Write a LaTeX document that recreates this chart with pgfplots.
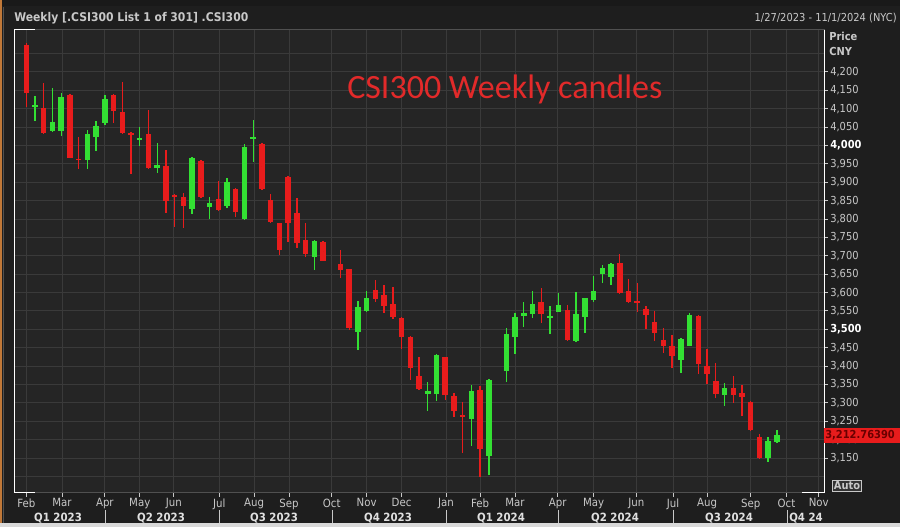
\documentclass[border=0pt]{standalone}
\usepackage{fontspec}
\setmainfont{DejaVu Sans}
\newfontfamily\tah{DejaVu Sans}[FakeStretch=0.9]
\newfontfamily\calfont{Carlito}
\usepackage{pgfplots}
\usepackage{pgfplotstable}
\pgfplotsset{compat=1.18}

\definecolor{outerbg}{HTML}{1E1E1E}
\definecolor{plotbg}{HTML}{252525}
\definecolor{gridc}{HTML}{3A3A3A}
\definecolor{framec}{HTML}{505050}
\definecolor{lbl}{HTML}{C8C8C8}
\definecolor{qlbl}{HTML}{E0E0E0}
\definecolor{cred}{HTML}{E81C1C}
\definecolor{cgreen}{HTML}{33E033}
\definecolor{ttl}{HTML}{E22A2A}
\definecolor{boxtxt}{HTML}{6A0000}
\definecolor{edge}{HTML}{C07838}

% weekly candles, x = week slot (holiday weeks left empty)
\pgfplotstableread{
x o h l c
0 4273 4278 4106 4144
2 4101 4171 4032 4035
5 4137 4139 3965 3967
6 3964 4022 3935 3960
10 4137 4139 4062 4094
11 4092 4174 4031 4033
12 4034 4036 3922 4029
14 4030 4097 3935 3938
16 3944 3988 3816 3850
17 3865 3867 3779 3861
18 3861 3870 3775 3836
20 3958 3960 3858 3861
22 3855 3904 3823 3825
24 3882 3884 3806 3820
27 4004 4006 3880 3882
28 3851 3868 3790 3792
29 3788 3790 3701 3717
30 3915 3918 3738 3788
31 3816 3856 3721 3736
32 3743 3788 3698 3705
34 3738 3740 3685 3687
36 3677 3715 3640 3661
37 3663 3665 3498 3504
40 3607 3634 3575 3582
41 3593 3621 3544 3564
42 3570 3614 3528 3534
43 3532 3534 3447 3480
44 3480 3482 3363 3395
45 3374 3424 3335 3337
48 3424 3426 3308 3321
49 3319 3328 3262 3279
50 3268 3303 3165 3262
52 3334 3345 3098 3174
59 3575 3612 3518 3542
62 3553 3565 3468 3470
68 3681 3705 3597 3599
69 3605 3636 3573 3575
70 3576 3626 3548 3571
71 3555 3564 3500 3538
72 3521 3550 3467 3491
73 3471 3503 3436 3455
74 3455 3485 3396 3427
77 3536 3538 3379 3405
78 3400 3447 3351 3378
79 3360 3408 3313 3324
81 3341 3374 3299 3321
82 3328 3349 3265 3316
83 3303 3305 3224 3226
84 3206 3216 3148 3150
}\downweeks

\pgfplotstableread{
x o h l c
1 4105 4136 4067 4109
3 4040 4156 4037 4064
4 4040 4142 4026 4133
7 3961 4042 3935 4030
8 4022 4067 3985 4053
9 4060 4137 4057 4127
13 4015 4051 3999 4020
15 3938 4008 3924 3946
19 3827 3968 3814 3967
21 3834 3861 3799 3844
23 3836 3911 3829 3901
25 3800 4004 3798 3997
26 4018 4069 3956 4022
33 3696 3743 3661 3741
38 3494 3576 3444 3561
39 3550 3604 3548 3584
46 3323 3356 3279 3333
47 3324 3432 3306 3430
51 3255 3348 3183 3331
53 3156 3366 3104 3363
55 3387 3505 3358 3488
56 3480 3544 3434 3534
57 3535 3575 3506 3544
58 3542 3604 3530 3570
60 3531 3564 3487 3536
61 3548 3598 3546 3566
63 3468 3602 3466 3541
64 3533 3586 3491 3584
65 3581 3645 3575 3605
66 3651 3675 3625 3666
67 3643 3680 3621 3678
75 3416 3477 3380 3473
76 3456 3545 3454 3539
80 3322 3353 3292 3341
85 3151 3208 3138 3196
86 3194 3226 3192 3212.76
}\upweeks

\pgfplotsset{
  wick/.style={only marks, mark size=0pt, mark options={draw=none, fill=none},
    error bars/.cd, y dir=both, y explicit,
    error mark=none, error bar style={line width=1pt, draw=#1}},
  body/.style={only marks, mark size=0pt, mark options={draw=none, fill=none},
    error bars/.cd, y dir=both, y explicit,
    error mark=none, error bar style={line width=4.1pt, draw=#1}},
}
\newcommand\yb[1]{\textbf{\color{white}#1}}

\begin{document}
\begin{tikzpicture}
% background, in screen pixels measured from the top
\begin{scope}[x=0.75pt, y=-0.75pt, shift={(0pt,395.25pt)}]
  \fill[outerbg] (0,0) rectangle (900,527);
  \fill[black!90] (0,0) rectangle (900,6);
  \fill[edge] (0,0) rectangle (2,527);
  \draw[framec, line width=0.75pt] (3,7) -- (3,523);
  \fill[black!15] (0,523) rectangle (900,527);
\end{scope}

\begin{axis}[
  at={(10.5pt,25.5pt)}, anchor=south west,
  scale only axis, width=607.5pt, height=347.25pt,
  xmin=-1.41, xmax=91.4, ymin=3054.9, ymax=4314.2,
  axis background/.style={fill=plotbg},
  axis line style={draw=framec, line width=0.75pt},
  xtick pos=bottom, ytick pos=right, yticklabel pos=right,
  tick align=outside, major tick length=3pt,
  tick style={lbl, line width=0.75pt},
  grid=major, major grid style={gridc, line width=0.75pt},
  xtick={0,4.09,9.0,13.0,16.9,22.1,26.1,30.1,35.0,39.0,43.0,48.1,52.0,56.0,60.9,65.0,69.9,74.1,78.0,83.0,87.1,90.8},
  xticklabels={Feb,Mar,Apr,May,Jun,Jul,Aug,Sep,Oct,Nov,Dec,Jan,Feb,Mar,Apr,May,Jun,Jul,Aug,Sep,Oct,Nov},
  xticklabel style={font=\tah\fontsize{8.5}{9}\selectfont, text=lbl, inner sep=0pt, yshift=-1pt},
  ytick={3150,3200,...,4200},
  yticklabels={{3,150},{3,200},{3,250},{3,300},{3,350},{3,400},{3,450},{\yb{3,500}},{3,550},{3,600},{3,650},{3,700},{3,750},{3,800},{3,850},{3,900},{3,950},{\yb{4,000}},{4,050},{4,100},{4,150},{4,200}},
  yticklabel style={font=\tah\fontsize{8.25}{9}\selectfont, text=lbl, anchor=west, inner sep=0pt, xshift=1.5pt},
  extra y ticks={3100,4250}, extra y tick labels={},
  extra y tick style={major tick length=0pt, grid=major},
]
\addplot[wick=cred] table[x=x, y expr={(\thisrow{h}+\thisrow{l})/2}, y error expr={(\thisrow{h}-\thisrow{l})/2}] {\downweeks};
\addplot[body=cred] table[x=x, y expr={(\thisrow{o}+\thisrow{c})/2}, y error expr={abs(\thisrow{o}-\thisrow{c})/2}] {\downweeks};
\addplot[wick=cgreen] table[x=x, y expr={(\thisrow{h}+\thisrow{l})/2}, y error expr={(\thisrow{h}-\thisrow{l})/2}] {\upweeks};
\addplot[body=cgreen] table[x=x, y expr={(\thisrow{o}+\thisrow{c})/2}, y error expr={abs(\thisrow{o}-\thisrow{c})/2}] {\upweeks};
\end{axis}

% texts and frame details, in screen pixels measured from the top
\begin{scope}[x=0.75pt, y=-0.75pt, shift={(0pt,395.25pt)}]
  \draw[white, line width=0.75pt] (14,30) -- (14,493) (824,30) -- (824,493)
    (14,30) -- (35,30) (14,493) -- (35,493) (802,493) -- (824,493);
  \node[anchor=west, inner sep=0pt, text=lbl, font=\tah\bfseries\fontsize{9}{10}\selectfont] at (14,18) {Weekly [.CSI300 List 1 of 301] .CSI300};
  \node[anchor=east, inner sep=0pt, text=lbl, font=\tah\fontsize{8.25}{9}\selectfont] at (897,18) {1/27/2023 - 11/1/2024 (NYC)};
  \node[anchor=base west, inner sep=0pt, text=ttl, font=\calfont\fontsize{25.5}{28}\selectfont] at (347,99) {CSI300 Weekly candles};
  \node[anchor=west, inner sep=0pt, text=lbl, font=\tah\bfseries\fontsize{8.25}{9}\selectfont] at (829,36) {Price};
  \node[anchor=west, inner sep=0pt, text=lbl, font=\tah\bfseries\fontsize{8.25}{9}\selectfont] at (829,52) {CNY};
  \fill[cred] (824,428) rectangle (900,443);
  \node[anchor=west, inner sep=0pt, text=boxtxt, font=\tah\bfseries\fontsize{8.25}{9}\selectfont] at (825,435.5) {3,212.76390};
  \node[draw=lbl, fill=black!80, line width=0.75pt, inner sep=1.2pt, text=lbl, font=\tah\bfseries\fontsize{8.25}{9}\selectfont] at (847,486) {Auto};
  \foreach \sx in {105,219,332,446,558,673,787}
    \draw[lbl, line width=0.75pt] (\sx,510) -- (\sx,523);
  \foreach \qx/\qt in {58/Q1 2023,161/Q2 2023,274/Q3 2023,388/Q4 2023,501/Q1 2024,615/Q2 2024,729/Q3 2024}
    \node[inner sep=0pt, text=qlbl, font=\tah\bfseries\fontsize{8.5}{9}\selectfont] at (\qx,518) {\qt};
  \node[anchor=west, inner sep=0pt, text=qlbl, font=\tah\bfseries\fontsize{8.5}{9}\selectfont] at (789,518) {Q4 24};
\end{scope}
\end{tikzpicture}
\end{document}
